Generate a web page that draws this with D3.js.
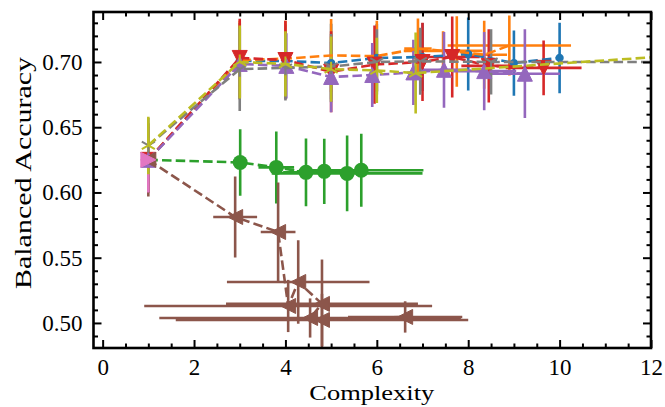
<!DOCTYPE html>
<html><head><meta charset="utf-8">
<script src="https://cdn.jsdelivr.net/npm/d3@7"></script>
<style>body{margin:0;background:#fff}svg{display:block}</style>
</head><body>
<script>
// ---------- data ----------
const xTicks = [0, 2, 4, 6, 8, 10, 12];
const yTicks = [0.50, 0.55, 0.60, 0.65, 0.70];

const blueX    = [1, 3, 4, 5, 6, 7, 8, 9, 10];
const blueY    = [0.625, 0.7008, 0.7008, 0.6992, 0.7031, 0.7038, 0.7061, 0.6992, 0.7031];
const blueXerr = [0, 0, 0, 0, 0, 0, 0, 0, 0];
const blueYerr = [0.025, 0.029, 0.028, 0.030, 0.026, 0.026, 0.028, 0.025, 0.027];

const orangeX    = [1, 3, 4, 5, 6, 6.9, 7.45, 7.75, 8.35, 8.9];
const orangeY    = [0.625, 0.7015, 0.7025, 0.705, 0.7045, 0.7103, 0.7085, 0.708, 0.7055, 0.7126];
const orangeXerr = [0, 0, 0, 0, 0, 0.3, 0.86, 0, 0.5, 1.35];
const orangeYerr = [0.025, 0.030, 0.029, 0.028, 0.027, 0.023, 0.015, 0.027, 0.026, 0.023];

const greenX    = [1, 3.01, 3.80, 4.45, 4.85, 5.35, 5.66];
const greenY    = [0.625, 0.623, 0.6192, 0.6154, 0.6162, 0.6146, 0.617];
const greenXerr = [0, 0.1, 0.39, 0.5, 0.6, 1.65, 1.36];
const greenYerr = [0.020, 0.0255, 0.0276, 0.026, 0.025, 0.029, 0.028];

const redX    = [1, 3, 4, 5, 5.95, 7.0, 7.65, 8.45, 9.65];
const redY    = [0.625, 0.7031, 0.7015, 0.6925, 0.698, 0.700, 0.7038, 0.697, 0.6955];
const redXerr = [0, 0, 0, 0, 0, 0, 0.6, 0.6, 0.83];
const redYerr = [0.025, 0.030, 0.030, 0.031, 0.030, 0.030, 0.031, 0.028, 0.021];

const purpleX    = [1, 3, 4.02, 5.0, 5.9, 6.8, 7.47, 8.35, 9.24];
const purpleY    = [0.625, 0.6985, 0.697, 0.6885, 0.690, 0.692, 0.694, 0.693, 0.691];
const purpleXerr = [0, 0, 0, 0, 0, 0, 0.5, 0.7, 0.77];
const purpleYerr = [0.025, 0.027, 0.025, 0.027, 0.0245, 0.025, 0.029, 0.030, 0.034];

const brownX    = [1, 2.90, 3.84, 4.06, 4.28, 4.80, 4.54, 4.80, 6.62];
const brownY    = [0.625, 0.5812, 0.5697, 0.5130, 0.5314, 0.5146, 0.5038, 0.5023, 0.5046];
const brownXerr = [0, 0.48, 0.38, 3.15, 1.56, 2.1, 3.3, 3.2, 1.25];
const brownYerr = [0.028, 0.031, 0.038, 0.020, 0.032, 0.034, 0.015, 0.020, 0.012];

const pinkX    = [1];
const pinkY    = [0.625];
const pinkXerr = [0];
const pinkYerr = [0.025];

const grayX    = [1, 3, 4, 5, 6, 6.95, 8.5, 12.5];
const grayY    = [0.636, 0.6945, 0.6955, 0.6965, 0.700, 0.7005, 0.700, 0.700];
const grayXerr = [0, 0, 0, 0, 0, 0, 0, 0];
const grayYerr = [0.021, 0.032, 0.025, 0.025, 0.025, 0.0257, 0.025, 0.02];

const oliveX    = [1, 3, 4, 5, 6, 6.85, 12.5];
const oliveY    = [0.636, 0.700, 0.6985, 0.6945, 0.6935, 0.6915, 0.7047];
const oliveXerr = [0, 0, 0, 0, 0, 0, 0];
const oliveYerr = [0.022, 0.028, 0.025, 0.025, 0.025, 0.031, 0.02];

// ---------- series table (styles attached here) ----------
const series = [
  {x: blueX,   y: blueY,   xe: blueXerr,   ye: blueYerr,   color: "#1f77b4", marker: "point"},
  {x: orangeX, y: orangeY, xe: orangeXerr, ye: orangeYerr, color: "#ff7f0e", marker: "pixel"},
  {x: greenX,  y: greenY,  xe: greenXerr,  ye: greenYerr,  color: "#2ca02c", marker: "circle"},
  {x: redX,    y: redY,    xe: redXerr,    ye: redYerr,    color: "#d62728", marker: "tdown"},
  {x: purpleX, y: purpleY, xe: purpleXerr, ye: purpleYerr, color: "#9467bd", marker: "tup"},
  {x: brownX,  y: brownY,  xe: brownXerr,  ye: brownYerr,  color: "#8c564b", marker: "tleft"},
  {x: pinkX,   y: pinkY,   xe: pinkXerr,   ye: pinkYerr,   color: "#e377c2", marker: "tright"},
  {x: grayX,   y: grayY,   xe: grayXerr,   ye: grayYerr,   color: "#7f7f7f", marker: "tri1"},
  {x: oliveX,  y: oliveY,  xe: oliveXerr,  ye: oliveYerr,  color: "#bcbd22", marker: "tri2"}
];

// ---------- layout ----------
const W = 665, H = 407;
const L = 93.5, R = 651, T = 12, B = 348;
const FONT = "'Liberation Serif', 'DejaVu Serif', serif";

const xs = d3.scaleLinear().domain([-0.2, 12]).range([L, R]);
const ys = d3.scaleLinear().domain([0.4808, 0.7383]).range([B, T]);

const svg = d3.select("body").append("svg").attr("width", W).attr("height", H);
svg.append("defs").append("clipPath").attr("id", "clip")
  .append("rect").attr("x", L).attr("y", T).attr("width", R - L).attr("height", B - T);

const plot = svg.append("g").attr("clip-path", "url(#clip)");
const LW = 2.6;

// error bars first (lower zorder)
series.forEach(s => {
  const g = plot.append("g");
  s.x.forEach((xv, i) => {
    const yv = s.y[i];
    if (s.ye[i] > 0) {
      g.append("line")
        .attr("x1", xs(xv)).attr("x2", xs(xv))
        .attr("y1", ys(yv - s.ye[i])).attr("y2", ys(yv + s.ye[i]))
        .attr("stroke", s.color).attr("stroke-width", LW);
    }
    if (s.xe[i] > 0) {
      g.append("line")
        .attr("x1", xs(xv - s.xe[i])).attr("x2", xs(xv + s.xe[i]))
        .attr("y1", ys(yv)).attr("y2", ys(yv))
        .attr("stroke", s.color).attr("stroke-width", LW);
    }
  });
});

// data lines + markers
const MS = 15;
function drawMarker(g, m, cx, cy, color) {
  const h = MS / 2;
  if (m === "circle") {
    g.append("circle").attr("cx", cx).attr("cy", cy).attr("r", h).attr("fill", color);
  } else if (m === "point") {
    g.append("circle").attr("cx", cx).attr("cy", cy).attr("r", h * 0.55).attr("fill", color);
  } else if (m === "pixel") {
    // invisible pixel marker
  } else if (m === "tdown" || m === "tup" || m === "tleft" || m === "tright") {
    let pts;
    if (m === "tdown") pts = [[0, h], [-h, -h], [h, -h]];
    if (m === "tup") pts = [[0, -h], [-h, h], [h, h]];
    if (m === "tleft") pts = [[-h, 0], [h, -h], [h, h]];
    if (m === "tright") pts = [[h, 0], [-h, -h], [-h, h]];
    g.append("path")
      .attr("d", "M" + pts.map(p => (cx + p[0]) + "," + (cy + p[1])).join("L") + "Z")
      .attr("fill", color).attr("stroke", color).attr("stroke-width", 1)
      .attr("stroke-linejoin", "miter");
  } else if (m === "tri1" || m === "tri2") {
    const sgn = m === "tri1" ? 1 : -1;
    const arms = [[0, sgn * h], [-0.866 * h, -sgn * 0.5 * h], [0.866 * h, -sgn * 0.5 * h]];
    arms.forEach(a => {
      g.append("line").attr("x1", cx).attr("y1", cy)
        .attr("x2", cx + a[0]).attr("y2", cy + a[1])
        .attr("stroke", color).attr("stroke-width", 2);
    });
  }
}

series.forEach(s => {
  const g = plot.append("g");
  const pts = s.x.map((xv, i) => [xv, s.y[i]]);
  g.append("path")
    .attr("d", d3.line().x(d => xs(d[0])).y(d => ys(d[1]))(pts))
    .attr("fill", "none").attr("stroke", s.color).attr("stroke-width", LW)
    .attr("stroke-dasharray", "9.5,4.2");
  pts.forEach(p => drawMarker(g, s.marker, xs(p[0]), ys(p[1]), s.color));
});

// ---------- axes (ticks inward on all sides) ----------
const xMinor = d3.range(-0.0, 12.01, 0.5).filter(v => !xTicks.includes(v));
const yMinor = d3.range(0.49, 0.7381, 0.01).map(v => +v.toFixed(2)).filter(v => !yTicks.some(t => Math.abs(t - v) < 1e-6));

function styleAxis(g) {
  g.select(".domain").remove();
  g.selectAll(".tick line").attr("stroke", "#000").attr("stroke-width", 2);
  g.selectAll("text").attr("font-family", FONT).attr("font-size", 23).attr("fill", "#000");
}

svg.append("g").attr("transform", `translate(0,${B})`)
  .call(d3.axisBottom(xs).tickValues(xTicks).tickFormat(d3.format("d")).tickSize(-8).tickPadding(11))
  .call(styleAxis);
svg.append("g").attr("transform", `translate(0,${B})`)
  .call(d3.axisBottom(xs).tickValues(xMinor).tickFormat("").tickSize(-4.5)).call(styleAxis);
svg.append("g").attr("transform", `translate(0,${T})`)
  .call(d3.axisTop(xs).tickValues(xTicks).tickFormat("").tickSize(-8)).call(styleAxis);
svg.append("g").attr("transform", `translate(0,${T})`)
  .call(d3.axisTop(xs).tickValues(xMinor).tickFormat("").tickSize(-4.5)).call(styleAxis);

svg.append("g").attr("transform", `translate(${L},0)`)
  .call(d3.axisLeft(ys).tickValues(yTicks).tickFormat(d3.format(".2f")).tickSize(-8).tickPadding(11))
  .call(styleAxis);
svg.append("g").attr("transform", `translate(${L},0)`)
  .call(d3.axisLeft(ys).tickValues(yMinor).tickFormat("").tickSize(-4.5)).call(styleAxis);
svg.append("g").attr("transform", `translate(${R},0)`)
  .call(d3.axisRight(ys).tickValues(yTicks).tickFormat("").tickSize(-8)).call(styleAxis);
svg.append("g").attr("transform", `translate(${R},0)`)
  .call(d3.axisRight(ys).tickValues(yMinor).tickFormat("").tickSize(-4.5)).call(styleAxis);

// frame
svg.append("rect").attr("x", L).attr("y", T).attr("width", R - L).attr("height", B - T)
  .attr("fill", "none").attr("stroke", "#000").attr("stroke-width", 2.6);

// axis labels
svg.append("text").attr("x", (L + R) / 2 - 0.5).attr("y", 400)
  .attr("text-anchor", "middle").attr("font-family", FONT).attr("font-size", 22)
  .attr("textLength", 125).attr("lengthAdjust", "spacingAndGlyphs")
  .text("Complexity");
svg.append("text").attr("transform", `translate(31,${173}) rotate(-90)`)
  .attr("text-anchor", "middle").attr("font-family", FONT).attr("font-size", 24)
  .attr("textLength", 232).attr("lengthAdjust", "spacingAndGlyphs")
  .text("Balanced Accuracy");
</script>
</body></html>
